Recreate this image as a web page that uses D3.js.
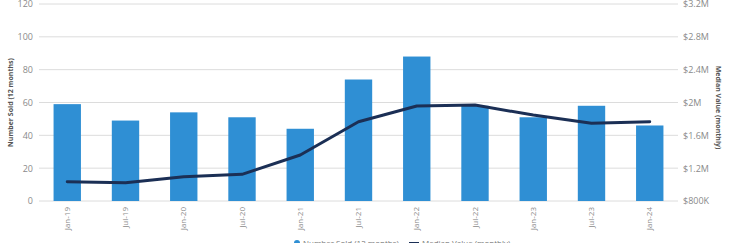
<!DOCTYPE html>
<html>
<head>
<meta charset="utf-8">
<script src="https://cdn.jsdelivr.net/npm/d3@7"></script>
<style>
  html, body { margin: 0; padding: 0; background: #fff; overflow: hidden; }
  #chart { width: 729px; height: 243px; }
  text { font-family: "Open Sans", "DejaVu Sans", sans-serif; }
</style>
</head>
<body>
<div id="chart"></div>
<script>
// Number sold (bars, left) vs median value (line, right)
const periods = ["Jan-19", "Jul-19", "Jan-20", "Jul-20", "Jan-21", "Jul-21", "Jan-22", "Jul-22", "Jan-23", "Jul-23", "Jan-24"];
const numberSold = [59, 49, 54, 51, 44, 74, 88, 58, 51, 58, 46];
const medianValue = [1035000, 1023000, 1096000, 1125000, 1360000, 1766000, 1957000, 1969000, 1847000, 1746000, 1766000];
const leftTicks = [0, 20, 40, 60, 80, 100, 120];
const rightTicks = [800000, 1200000, 1600000, 2000000, 2400000, 2800000, 3200000];

(() => {
    const W = 729, H = 243;
    const m = { top: 4, right: 51, bottom: 42, left: 39 };
    const w = W - m.left - m.right;
    const h = H - m.top - m.bottom;

    const svg = d3.select("#chart").append("svg").attr("width", W).attr("height", H);
    const g = svg.append("g").attr("transform", `translate(${m.left},${m.top})`);

    const x = d3.scaleBand().domain(periods).range([0, w]).paddingInner(0.53).paddingOuter(0.25);
    const y = d3.scaleLinear().domain([0, 120]).range([h, 0]);
    const y2 = d3.scaleLinear().domain([800000, 3200000]).range([h, 0]);

    // gridlines
    g.selectAll("line.grid")
        .data(leftTicks)
        .join("line")
        .attr("class", "grid")
        .attr("x1", 0).attr("x2", w)
        .attr("y1", d => y(d)).attr("y2", d => y(d))
        .attr("stroke", "#dcdcdc").attr("stroke-width", 1);

    // left axis
    const ya = g.append("g")
        .call(d3.axisLeft(y).tickValues(leftTicks).tickSize(0).tickPadding(6));
    ya.select(".domain").remove();
    ya.selectAll("text").attr("fill", "#8a8a8a").style("font-size", "9px");

    // right axis
    const fmt = d => d >= 1000000 ? `$${d3.format("~g")(d / 1000000)}M` : `$${d / 1000}K`;
    const yb = g.append("g").attr("transform", `translate(${w},0)`)
        .call(d3.axisRight(y2).tickValues(rightTicks).tickFormat(fmt).tickSize(0).tickPadding(5));
    yb.select(".domain").remove();
    yb.selectAll("text").attr("fill", "#8a8a8a").style("font-size", "9px");

    // x axis
    const xa = g.append("g").attr("transform", `translate(0,${h})`)
        .call(d3.axisBottom(x).tickSize(0));
    xa.select(".domain").remove();
    xa.selectAll("text")
        .attr("fill", "#8a8a8a").style("font-size", "8px")
        .attr("text-anchor", "end")
        .attr("transform", "rotate(-90)")
        .attr("x", -6).attr("y", 0).attr("dy", "0.32em");

    // bars
    g.selectAll("rect.bar")
        .data(numberSold)
        .join("rect")
        .attr("class", "bar")
        .attr("x", (d, i) => x(periods[i]))
        .attr("y", d => y(d))
        .attr("width", x.bandwidth())
        .attr("height", d => h - y(d))
        .attr("fill", "#2f8fd4");

    // line
    const line = d3.line()
        .x((d, i) => x(periods[i]) + x.bandwidth() / 2)
        .y(d => y2(d));
    g.append("path")
        .datum(medianValue)
        .attr("d", line)
        .attr("fill", "none")
        .attr("stroke", "#1b2f55")
        .attr("stroke-width", 3)
        .attr("stroke-linejoin", "round")
        .attr("stroke-linecap", "round");

    // axis titles
    svg.append("text")
        .attr("transform", `translate(13,${m.top + h / 2}) rotate(-90)`)
        .attr("text-anchor", "middle")
        .attr("fill", "#555").style("font-size", "7px").style("font-weight", "bold")
        .text("Number Sold (12 months)");
    svg.append("text")
        .attr("transform", `translate(716,${m.top + h / 2 + 5}) rotate(90)`)
        .attr("text-anchor", "middle")
        .attr("fill", "#555").style("font-size", "7px").style("font-weight", "bold")
        .text("Median Value (monthly)");

    // legend (cut off at the bottom edge)
    const lg = svg.append("g").attr("transform", "translate(297,244)");
    lg.append("circle").attr("r", 3).attr("cx", 0).attr("cy", -1).attr("fill", "#2f8fd4");
    lg.append("text").attr("x", 6).attr("y", 2).attr("fill", "#777").style("font-size", "8px")
        .text("Number Sold (12 months)");
    lg.append("line").attr("x1", 112).attr("x2", 122).attr("y1", -1).attr("y2", -1)
        .attr("stroke", "#1b2f55").attr("stroke-width", 2);
    lg.append("text").attr("x", 125).attr("y", 2).attr("fill", "#777").style("font-size", "8px")
        .text("Median Value (monthly)");
})();
</script>
</body>
</html>
